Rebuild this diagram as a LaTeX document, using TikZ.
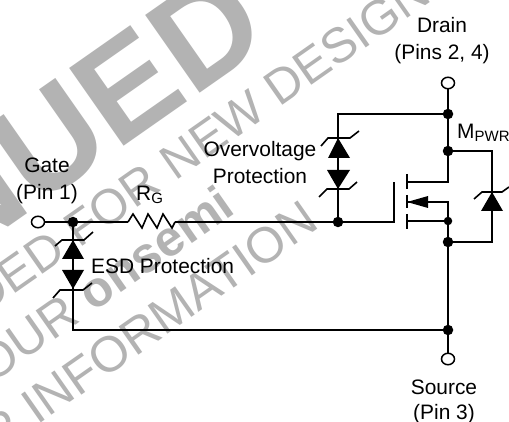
\documentclass[tikz,border=0pt]{standalone}
\usepackage{fontspec}
\usetikzlibrary{shapes.geometric}
\setmainfont{Liberation Sans}
\begin{document}
\begin{tikzpicture}[x=1pt,y=-1pt,
  wire/.style={draw=black,line width=1.6pt,line join=miter},
  thick wire/.style={draw=black,line width=2pt},
  dot/.style={circle,fill=black,inner sep=0pt,minimum size=10.5pt},
  smalldot/.style={circle,fill=black,inner sep=0pt,minimum size=8.5pt},
  term/.style={ellipse,draw=black,line width=1.5pt,fill=white,inner sep=0pt,minimum width=13pt,minimum height=11.5pt},
  lab/.style={anchor=base,inner sep=0pt,font=\fontsize{20.9}{25}\selectfont},
  wm/.style={anchor=base east,inner sep=0pt,rotate=35,text=wmgray},
  tri/.style={fill=black,draw=none},
]
\definecolor{wmgray}{HTML}{B3B3B3}
\useasboundingbox (0,0) rectangle (509,422);
\clip (0,0) rectangle (509,422);
\fill[white] (0,0) rectangle (509,422);
% watermark
\node[wm,font=\fontsize{138}{138}\bfseries\selectfont] (wmA) at (274,41) {DISCONTINUED};
\node[wm,font=\fontsize{49}{49}\selectfont] (wmB) at (434,0) {NOT RECOMMENDED FOR NEW DESIGN};
\node[wm,font=\fontsize{50}{50}\selectfont] (wmC) at (237,212) {CONTACT YOUR {\bfseries onsemi}};
\node[wm,font=\fontsize{50}{50}\selectfont] (wmD) at (321,227) {REPRESENTATIVE FOR INFORMATION};
% junctions
\node[term] (gate) at (38,222) {};
\node[dot] (j1) at (73,222) {};
\node[dot] (j2) at (338,222) {};
\node[term] (drain) at (448,83) {};
\node[dot] (j3) at (448,114) {};
\node[dot] (j4) at (448,151) {};
\node[smalldot] (j5) at (448,221) {};
\node[dot] (j6) at (448,242) {};
\node[dot] (j7) at (448,330) {};
\node[term] (source) at (448,359) {};
\coordinate (r0) at (128,222);
\coordinate (r1) at (175,222);
\coordinate (gs) at (394,222);
\coordinate (gt) at (394,182);
\coordinate (c1) at (338,114);
\coordinate (c2) at (492,151);
\coordinate (c3) at (492,242);
\coordinate (c4) at (73,330);
\coordinate (d0) at (407,182);
\coordinate (d1) at (448,182);
\coordinate (s0) at (407,202);
\coordinate (s1) at (448,202);
\coordinate (s2) at (407,221);
% wires
\draw[wire] (gate) -- (j1) -- (r0);
\draw[wire] (r0) -- (133,214) -- (142,228) -- (148,214) -- (157,228) -- (163,214) -- (172,228) -- (r1);
\draw[wire] (r1) -- (j2) -- (gs) -- (gt);
\draw[wire] (drain) -- (j3) -- (j4) -- (d1) -- (d0);
\draw[wire] (j3) -- (c1) -- (j2);
\draw[wire] (j4) -- (c2) -- (c3) -- (j6);
\draw[wire] (s0) -- (s1) -- (j5) -- (j6) -- (j7) -- (source);
\draw[wire] (s2) -- (j5);
\draw[wire] (j1) -- (c4) -- (j7);
% channel
\draw[thick wire] (407,174) -- (407,189);
\draw[thick wire] (407,195) -- (407,208);
\draw[thick wire] (407,214) -- (407,229);
% body arrow
\fill[tri] (407,202) -- (428,196) -- (428,208) -- cycle;
% zener diodes
\fill[tri] (338,138) -- (350,158) -- (328,158) -- cycle;
\draw[wire] (321,146) -- (328,138) -- (350,138) -- (359,131);
\fill[tri] (338,189) -- (350,170) -- (327,170) -- cycle;
\draw[wire] (319,197) -- (327,189) -- (349,189) -- (357,182);
\fill[tri] (73,240) -- (84,259) -- (62,259) -- cycle;
\draw[wire] (55,246) -- (62,240) -- (84,240) -- (93,232);
\fill[tri] (73,289) -- (84,270) -- (62,270) -- cycle;
\draw[wire] (53,298) -- (60,290) -- (83,290) -- (92,283);
\fill[tri] (492,192) -- (503,211) -- (481,211) -- cycle;
\draw[wire] (474,199) -- (482,192) -- (502,192) -- (509,187);
% labels
\node[lab] (l1) at (47,173) {Gate};
\node[lab] (l2) at (47,200) {(Pin 1)};
\node[lab,anchor=base west] (l3) at (136,201) {R\raisebox{-3pt}{\fontsize{15}{15}\selectfont G}};
\node[lab] (l4) at (260,157) {Overvoltage};
\node[lab] (l5) at (260,184) {Protection};
\node[lab] (l6) at (442,33) {Drain};
\node[lab] (l7) at (442,60) {(Pins 2, 4)};
\node[lab,anchor=base west] (l8) at (457,139) {M\raisebox{-3pt}{\fontsize{15}{15}\selectfont PWR}};
\node[lab,anchor=base west] (l9) at (91,273) {ESD Protection};
\node[lab] (l10) at (444,394) {Source};
\node[lab] (l11) at (444,419) {(Pin 3)};
\end{tikzpicture}
\end{document}
